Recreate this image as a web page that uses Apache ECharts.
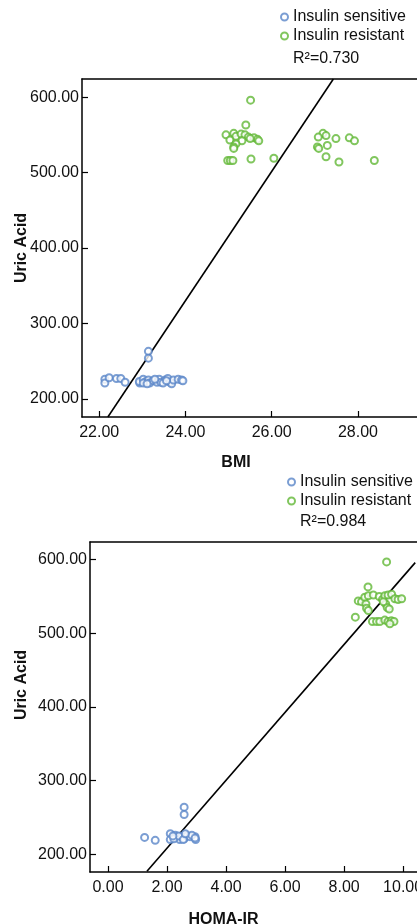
<!DOCTYPE html>
<html>
<head>
<meta charset="utf-8">
<script src="https://cdn.jsdelivr.net/npm/echarts@6/dist/echarts.min.js"></script>
<style>
  html, body { margin: 0; padding: 0; background: #fff; }
  #chart { width: 417px; height: 924px; }
</style>
</head>
<body>
<div id="chart"></div>
<script>
// BMI vs Uric Acid
let bmiSensitive = [
  [23.14, 263], [23.14, 254], [22.13, 226], [22.13, 221], [22.23, 228], [22.40, 227],
  [22.50, 227], [22.60, 222], [22.94, 221], [22.93, 223], [23.02, 226], [23.08, 223],
  [23.14, 225], [23.17, 221], [23.25, 224], [23.34, 222], [23.39, 226], [23.43, 222],
  [23.53, 225], [23.59, 227], [23.64, 222], [23.68, 220], [23.72, 225], [23.83, 226],
  [23.91, 225], [23.94, 224], [23.02, 221], [23.11, 220], [23.29, 226], [23.48, 221],
  [23.56, 224]
];
let bmiResistant = [
  [25.51, 596], [25.40, 563], [24.94, 550], [25.12, 552], [25.17, 548], [25.03, 543],
  [25.29, 551], [25.38, 550], [25.46, 547], [25.31, 542], [25.17, 538], [25.12, 534],
  [25.12, 532], [25.59, 546], [25.67, 544], [25.70, 542], [25.50, 545], [24.98, 516],
  [25.04, 516], [25.10, 516], [25.52, 518], [26.05, 519], [27.19, 552], [27.26, 549],
  [27.08, 547], [27.49, 545], [27.80, 546], [27.92, 542], [27.06, 534], [27.09, 532],
  [27.29, 536], [27.26, 521], [27.56, 514], [28.38, 516]
];
let bmiFit = [[22.2, 176], [27.43, 624]];

// HOMA-IR vs Uric Acid
let homaSensitive = [
  [2.58, 264], [2.58, 254], [1.24, 223], [1.60, 219], [2.11, 228], [2.11, 220],
  [2.28, 226], [2.34, 223], [2.43, 220], [2.51, 224], [2.58, 221], [2.67, 225],
  [2.78, 224], [2.95, 224], [2.97, 220], [2.23, 221], [2.40, 225], [2.55, 220],
  [2.84, 226], [2.95, 222], [2.62, 228], [2.20, 225]
];
let homaResistant = [
  [9.44, 597], [8.81, 563], [8.38, 522], [8.48, 544], [8.59, 543], [8.70, 549],
  [8.82, 551], [8.99, 552], [8.74, 540], [8.76, 534], [8.82, 531], [9.19, 550],
  [9.30, 546], [9.38, 551], [9.49, 552], [9.61, 553], [9.41, 540], [9.46, 535],
  [9.53, 533], [9.72, 547], [9.83, 546], [9.95, 547], [8.96, 516], [9.10, 516],
  [9.21, 516], [9.38, 518], [9.49, 516], [9.60, 517], [9.69, 516], [9.55, 513],
  [9.33, 543]
];
let homaFit = [[1.32, 177], [10.41, 596]];

let groupNames = ['Insulin sensitive', 'Insulin resistant'];
let r2Labels = ['R²=0.730', 'R²=0.984'];
let bmiTicks = [22, 24, 26, 28];
let homaTicks = [0, 2, 4, 6, 8, 10];
let uaTicks = [200, 300, 400, 500, 600];

const BLUE = '#5a86c8';
const GREEN = '#62b836';
const FONT = 'Liberation Sans, Arial, sans-serif';
const TEXT = '#111';

let chart = echarts.init(document.getElementById('chart'), null, { renderer: 'canvas' });

function bottomAxis(grid, min, max, ticks, name, nameGap, nameShift) {
  return {
    type: 'value',
    gridIndex: grid,
    position: 'bottom',
    min: min,
    max: max,
    name: name,
    nameLocation: 'middle',
    nameGap: nameGap,
    nameTextStyle: { fontFamily: FONT, fontSize: 16, fontWeight: 'bold', color: TEXT, padding: [0, nameShift, 0, 0] },
    axisLine: { onZero: false, lineStyle: { color: '#000', width: 1.5 } },
    axisTick: { inside: true, length: 6, customValues: ticks, lineStyle: { color: '#000', width: 1.2 } },
    axisLabel: { customValues: ticks, margin: 8, fontFamily: FONT, fontSize: 16, color: TEXT, formatter: (v) => v.toFixed(2) },
    splitLine: { show: false },
  };
}
function topAxis(grid, min, max) {
  return {
    type: 'value',
    gridIndex: grid,
    position: 'top',
    min: min,
    max: max,
    axisLine: { onZero: false, lineStyle: { color: '#000', width: 1.5 } },
    axisTick: { show: false },
    axisLabel: { show: false },
    splitLine: { show: false },
  };
}
function leftAxis(grid) {
  return {
    type: 'value',
    gridIndex: grid,
    min: 176,
    max: 624,
    axisLine: { onZero: false, lineStyle: { color: '#000', width: 1.5 } },
    axisTick: { inside: true, length: 6, customValues: uaTicks, lineStyle: { color: '#000', width: 1.2 } },
    axisLabel: { customValues: uaTicks, margin: 3, fontFamily: FONT, fontSize: 16, color: TEXT, formatter: (v) => v.toFixed(2) },
    splitLine: { show: false },
  };
}
// y axis title, drawn rotated so it can sit close to the tick labels
function yTitle(x, y) {
  return {
    type: 'text',
    x: x,
    y: y,
    rotation: Math.PI / 2,
    style: { text: 'Uric Acid', font: 'bold 16px ' + FONT, fill: TEXT, align: 'center', verticalAlign: 'middle' },
  };
}
function dots(name, x, y, color, data) {
  return {
    name: name,
    type: 'scatter',
    xAxisIndex: x,
    yAxisIndex: y,
    symbol: 'emptyCircle',
    symbolSize: 7,
    itemStyle: { color: color, borderColor: color, borderWidth: 1.3 },
    data: data,
    z: 3,
  };
}
function fitLine(x, y, data) {
  return {
    name: 'fit' + x,
    type: 'line',
    xAxisIndex: x,
    yAxisIndex: y,
    symbol: 'none',
    lineStyle: { color: '#000', width: 1.6 },
    data: data,
    z: 2,
  };
}
function legendAt(left, top) {
  return {
    data: groupNames,
    orient: 'vertical',
    left: left,
    top: top,
    padding: 0,
    itemWidth: 7,
    itemHeight: 7,
    itemGap: 3,
    selectedMode: false,
    textStyle: { fontFamily: FONT, fontSize: 16, color: TEXT, padding: [0, 0, 0, 0] },
  };
}

let option = {
  backgroundColor: '#fff',
  animation: false,
  grid: [
    { left: 82, top: 79, width: 335, height: 338, containLabel: false, outerBoundsMode: 'none' },
    { left: 90, top: 542, width: 327, height: 330, containLabel: false, outerBoundsMode: 'none' },
  ],
  legend: [legendAt(280, 9), legendAt(287, 474)],
  xAxis: [
    bottomAxis(0, 21.6, 29.37, bmiTicks, 'BMI', 38, 27),
    bottomAxis(1, -0.61, 10.47, homaTicks, 'HOMA-IR', 40, 60),
    topAxis(0, 21.6, 29.37),
    topAxis(1, -0.61, 10.47),
  ],
  yAxis: [leftAxis(0), leftAxis(1)],
  graphic: [
    { type: 'text', left: 293, top: 51, style: { text: r2Labels[0], font: '16px ' + FONT, fill: TEXT } },
    { type: 'text', left: 300, top: 514, style: { text: r2Labels[1], font: '16px ' + FONT, fill: TEXT } },
    yTitle(22, 248),
    yTitle(22, 685),
  ],
  series: [
    fitLine(0, 0, bmiFit),
    dots(groupNames[0], 0, 0, BLUE, bmiSensitive),
    dots(groupNames[1], 0, 0, GREEN, bmiResistant),
    fitLine(1, 1, homaFit),
    dots(groupNames[0], 1, 1, BLUE, homaSensitive),
    dots(groupNames[1], 1, 1, GREEN, homaResistant),
  ],
};

chart.setOption(option);
</script>
</body>
</html>
